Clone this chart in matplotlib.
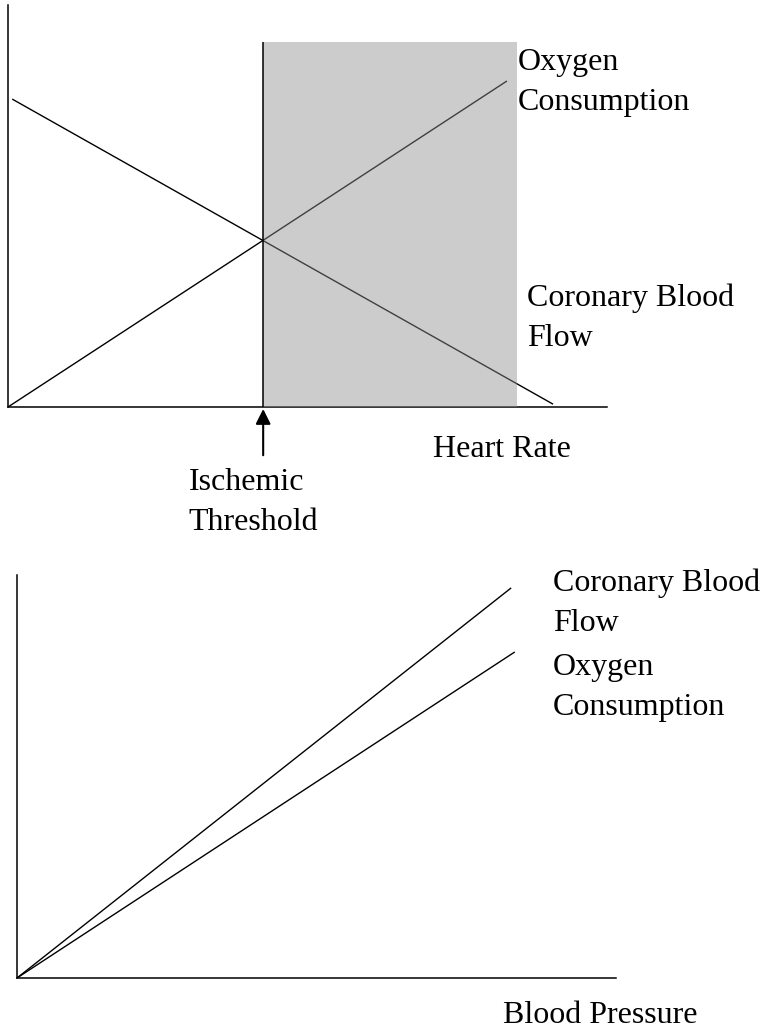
import matplotlib
matplotlib.use("Agg")
import matplotlib.pyplot as plt

plt.rcParams['font.family'] = ['Liberation Serif', 'DejaVu Serif']

# ---- Data (top panel: heart rate) ----
hr_threshold = 4.26
hr_shade_x = [4.26, 8.50]
hr_shade_top = 9.08
hr_oxygen_x = [0.0, 8.33]
hr_oxygen_y = [0.0, 8.11]
hr_flow_x = [0.07, 9.10]
hr_flow_y = [7.66, 0.07]

# ---- Data (bottom panel: blood pressure) ----
bp_flow_x = [0.0, 8.25]
bp_flow_y = [0.0, 9.68]
bp_oxygen_x = [0.0, 8.31]
bp_oxygen_y = [0.0, 8.09]

W, H = 764, 1034
fig = plt.figure(figsize=(W / 100, H / 100), dpi=100)

FS = 23
LS = 1.48

def setup(ax):
    for s in ('top', 'right'):
        ax.spines[s].set_visible(False)
    for s in ('left', 'bottom'):
        ax.spines[s].set_linewidth(1.1)
        ax.spines[s].set_color('black')
    ax.set_xticks([])
    ax.set_yticks([])
    ax.set_xlim(0, 10)
    ax.set_ylim(0, 10)
    ax.patch.set_alpha(0)

# Top panel
ax1 = fig.add_axes([8 / W, (H - 407) / H, 599 / W, 402 / H])
setup(ax1)
ax1.plot(hr_oxygen_x, hr_oxygen_y, color='black', lw=1.0, solid_capstyle='butt')
ax1.plot(hr_flow_x, hr_flow_y, color='black', lw=1.0, solid_capstyle='butt')
ax1.fill_between(hr_shade_x, 0, hr_shade_top, color='#8e8e8e', alpha=0.45,
                 lw=0, zorder=5, clip_on=False)
ax1.plot([hr_threshold, hr_threshold], [0, hr_shade_top], color='black', lw=1.1,
         zorder=6, solid_capstyle='butt')
ax1.annotate('', xy=(hr_threshold, -0.05), xytext=(hr_threshold, -1.2),
             arrowprops=dict(arrowstyle='-|>,head_length=0.9,head_width=0.45',
                             color='black', lw=1.5, shrinkA=0, shrinkB=0),
             annotation_clip=False)
ax1.text(8.51, 7.39, 'Oxygen\nConsumption', fontsize=FS, ha='left', va='baseline',
         linespacing=LS)
ax1.text(8.66, 1.52, 'Coronary Blood\nFlow', fontsize=FS, ha='left', va='baseline',
         linespacing=LS)
ax1.text(7.10, -1.24, 'Heart Rate', fontsize=FS, ha='left', va='baseline')
ax1.text(3.02, -3.06, 'Ischemic\nThreshold', fontsize=FS, ha='left', va='baseline',
         linespacing=LS)

# Bottom panel
ax2 = fig.add_axes([17 / W, (H - 978) / H, 599 / W, 403 / H])
setup(ax2)
ax2.plot(bp_flow_x, bp_flow_y, color='black', lw=1.0, solid_capstyle='butt')
ax2.plot(bp_oxygen_x, bp_oxygen_y, color='black', lw=1.0, solid_capstyle='butt')
ax2.text(8.95, 8.61, 'Coronary Blood\nFlow', fontsize=FS, ha='left', va='baseline',
         linespacing=LS)
ax2.text(8.95, 6.53, 'Oxygen\nConsumption', fontsize=FS, ha='left', va='baseline',
         linespacing=LS)
ax2.text(8.11, -1.12, 'Blood Pressure', fontsize=FS, ha='left', va='baseline')

fig.savefig('out.png', dpi=100)
